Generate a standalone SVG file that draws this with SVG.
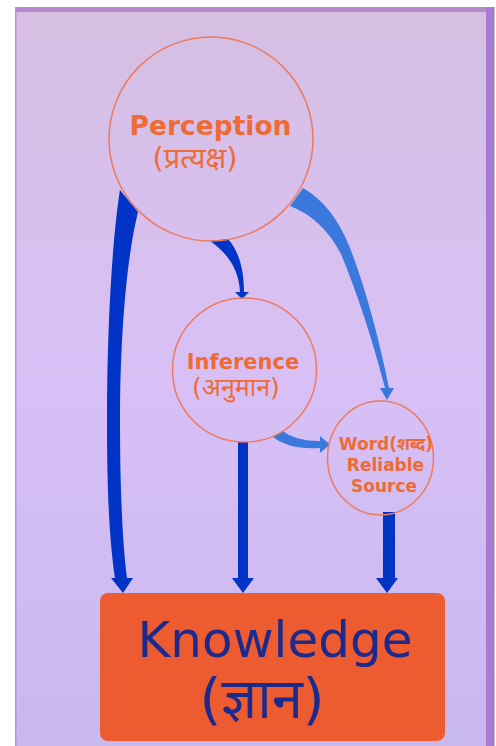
<svg xmlns="http://www.w3.org/2000/svg" width="496" height="746" viewBox="0 0 496 746">
  <defs>
    <linearGradient id="bg" x1="0" y1="0" x2="0" y2="1">
      <stop offset="0" stop-color="#d6bfe2"/>
      <stop offset="0.5" stop-color="#d8c0f6"/>
      <stop offset="1" stop-color="#c8b8ee"/>
    </linearGradient>
    <style>
      .node { fill: none; stroke: #ee7a5c; stroke-width: 1.5; }
      .lbl { font-family: "DejaVu Sans", "Noto Sans", sans-serif; fill: #ef6b36; text-anchor: middle; font-weight: bold; }
      .dev { font-weight: normal; }
      .dark { fill: #0034c6; }
      .light { fill: #3b78dc; }
      .ktxt { font-family: "DejaVu Sans", "Noto Sans", sans-serif; fill: #1b2a8c; text-anchor: middle; }
    </style>
  </defs>
  <rect width="496" height="746" fill="#ffffff"/>
  <rect x="15" y="7" width="478" height="739" fill="url(#bg)"/>
  <rect x="15" y="7" width="478" height="5" fill="#b689cc"/>
  <rect x="486" y="7" width="7" height="739" fill="#a77bd2"/>
  <rect x="15" y="7" width="1.5" height="739" fill="#b592d8"/>
  <rect x="493" y="7" width="1.5" height="739" fill="#8a8a8a"/>

  <g id="connectors">
    <path class="dark" d="M120,190 C112,240 107,330 107,420 C107,500 110,545 115,578 L127,578 C122,540 120,480 120,420 C120,340 126,260 138,212 Z"/>
    <polygon class="dark" points="111,578 133,578 123,593"/>
    <path class="dark" d="M210,241 C226,252 239,268 240,292 L244,292 C244,268 238,250 228,239 Z"/>
    <polygon class="dark" points="235,292 249,292 242,299"/>
    <path class="light" d="M303,188 Q333,205 350,248 Q372,305 389,388 L385,388 Q365,312 341,254 Q322,218 290,206 Z"/>
    <polygon class="light" points="380,388 394,388 387,400"/>
    <path class="light" d="M283,431 Q295,441 320,441 L320,448 Q290,450 273,437 Z"/>
    <polygon class="light" points="320,436 320,453 330,444.5"/>
    <rect class="dark" x="238" y="442" width="10" height="137"/>
    <polygon class="dark" points="232,578 254,578 243,593"/>
    <rect class="dark" x="383" y="512" width="12" height="67"/>
    <polygon class="dark" points="376,578 398,578 387,593"/>
  </g>

  <g id="perception">
    <circle class="node" cx="211" cy="139" r="102"/>
    <text class="lbl" x="210.5" y="135" font-size="26.5">Perception</text>
    <text class="lbl dev" x="195" y="168" font-size="29">(प्रत्यक्ष)</text>
  </g>
  <g id="inference">
    <circle class="node" cx="244.5" cy="370" r="72"/>
    <text class="lbl" x="243" y="369" font-size="21">Inference</text>
    <text class="lbl dev" x="236" y="396" font-size="25">(अनुमान)</text>
  </g>
  <g id="word">
    <ellipse class="node" cx="380.5" cy="458" rx="53" ry="57"/>
    <text class="lbl" x="386" y="450" font-size="17">Word(शब्द)</text>
    <text class="lbl" x="385.5" y="471" font-size="17">Reliable</text>
    <text class="lbl" x="384" y="492" font-size="17">Source</text>
  </g>
  <g id="knowledge">
    <rect x="100" y="593" width="345" height="148" rx="8" fill="#ec5c30"/>
    <text class="ktxt" x="275" y="657" font-size="50">Knowledge</text>
    <text class="ktxt" x="262" y="718" font-size="56">(ज्ञान)</text>
  </g>
</svg>
